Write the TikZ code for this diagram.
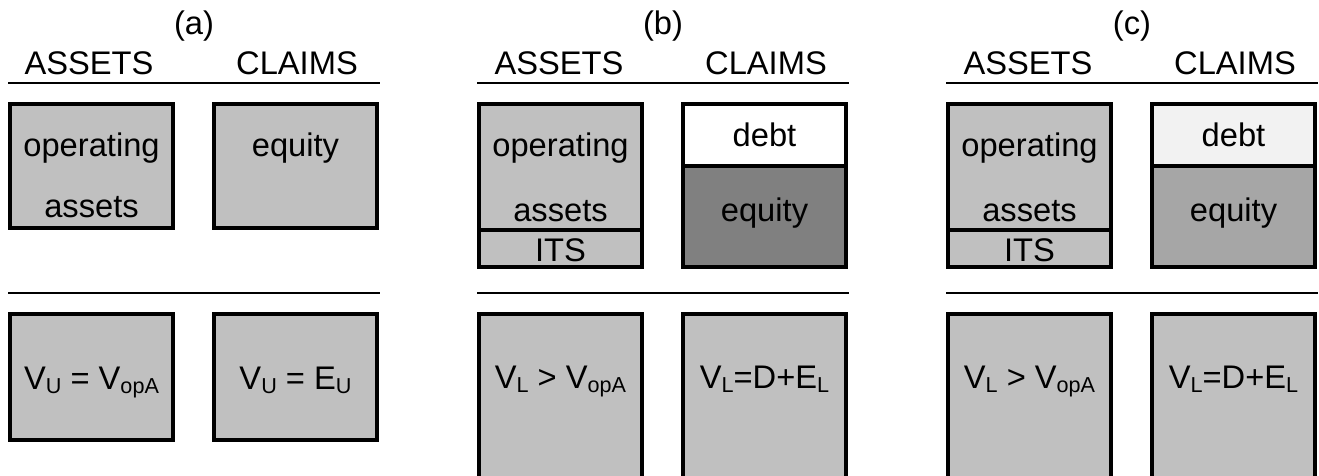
\documentclass[tikz,border=0pt]{standalone}
\usepackage{fontspec}
\setmainfont{Liberation Sans}
\usetikzlibrary{positioning}
\definecolor{boxgray}{RGB}{192,192,192}
\definecolor{equitydark}{RGB}{128,128,128}
\definecolor{equitymid}{RGB}{166,166,166}
\definecolor{debtlight}{RGB}{242,242,242}
\newcommand{\sublow}[1]{\raisebox{-2.7pt}{\fontsize{12.3}{12}\selectfont #1}}

\begin{document}
\begin{tikzpicture}[x=0.02cm, y=-0.02cm,
    lbl/.style={font=\fontsize{18.6}{20}\selectfont, inner sep=0pt, anchor=base},
    blk/.style={draw=black, line width=2.2pt},
    rule/.style={line width=1.5pt}]
    \clip (0,0) rectangle (1319,476);
    \fill[white] (0,0) rectangle (1319,476);

    % Panel (a): unlevered firm
    \node[lbl] (titlea) at (194,35) {(a)};
    \node[lbl] (assetsa) at (89,75) {ASSETS};
    \node[lbl] (claimsa) at (297,75) {CLAIMS};
    \draw[rule] (8,83) -- (380,83);
    \draw[rule] (8,293) -- (380,293);

    \draw[blk, fill=boxgray] (10,104) rectangle (173,228);
    \node[lbl] (opa) at (91.5,157) {operating};
    \node[lbl] (opb) at (91.5,218) {assets};
    \draw[blk, fill=boxgray] (214,104) rectangle (377,228);
    \node[lbl] (eqa) at (295.5,157) {equity};

    \draw[blk, fill=boxgray] (10,314) rectangle (173,440);
    \node[lbl] (vala) at (91.5,389) {V\sublow{U} = V\sublow{opA}};
    \draw[blk, fill=boxgray] (214,314) rectangle (377,440);
    \node[lbl] (valclaima) at (295.5,389) {V\sublow{U} = E\sublow{U}};

    % Panels (b) and (c): levered firm
    \foreach \xo/\tag/\debtcol/\eqcol in {479/b/white/equitydark, 948/c/debtlight/equitymid} {
        \node[lbl] (title\tag) at ({\xo+184},35) {(\tag)};
        \node[lbl] (assets\tag) at ({\xo+80},75) {ASSETS};
        \node[lbl] (claims\tag) at ({\xo+287},75) {CLAIMS};
        \draw[rule] ({\xo-2},83) -- ({\xo+370},83);
        \draw[rule] ({\xo-2},293) -- ({\xo+370},293);

        % assets side with tax shield
        \draw[blk, fill=boxgray] (\xo,104) rectangle ({\xo+163},230);
        \draw[blk, fill=boxgray] (\xo,230) rectangle ({\xo+163},267);
        \node[lbl] (op\tag) at ({\xo+81.5},157) {operating};
        \node[lbl] (opassets\tag) at ({\xo+81.5},222) {assets};
        \node[lbl] (its\tag) at ({\xo+81.5},262) {ITS};

        % claims side: debt over equity
        \draw[blk, fill=\debtcol] ({\xo+204},104) rectangle ({\xo+367},166);
        \draw[blk, fill=\eqcol] ({\xo+204},166) rectangle ({\xo+367},267);
        \node[lbl] (debt\tag) at ({\xo+285.5},147) {debt};
        \node[lbl] (eq\tag) at ({\xo+285.5},222) {equity};

        % values
        \draw[blk, fill=boxgray] (\xo,314) rectangle ({\xo+163},490);
        \node[lbl] (val\tag) at ({\xo+81.5},388) {V\sublow{L} > V\sublow{opA}};
        \draw[blk, fill=boxgray] ({\xo+204},314) rectangle ({\xo+367},490);
        \node[lbl] (valclaim\tag) at ({\xo+285.5},388) {V\sublow{L}=D+E\sublow{L}};
    }
\end{tikzpicture}
\end{document}
